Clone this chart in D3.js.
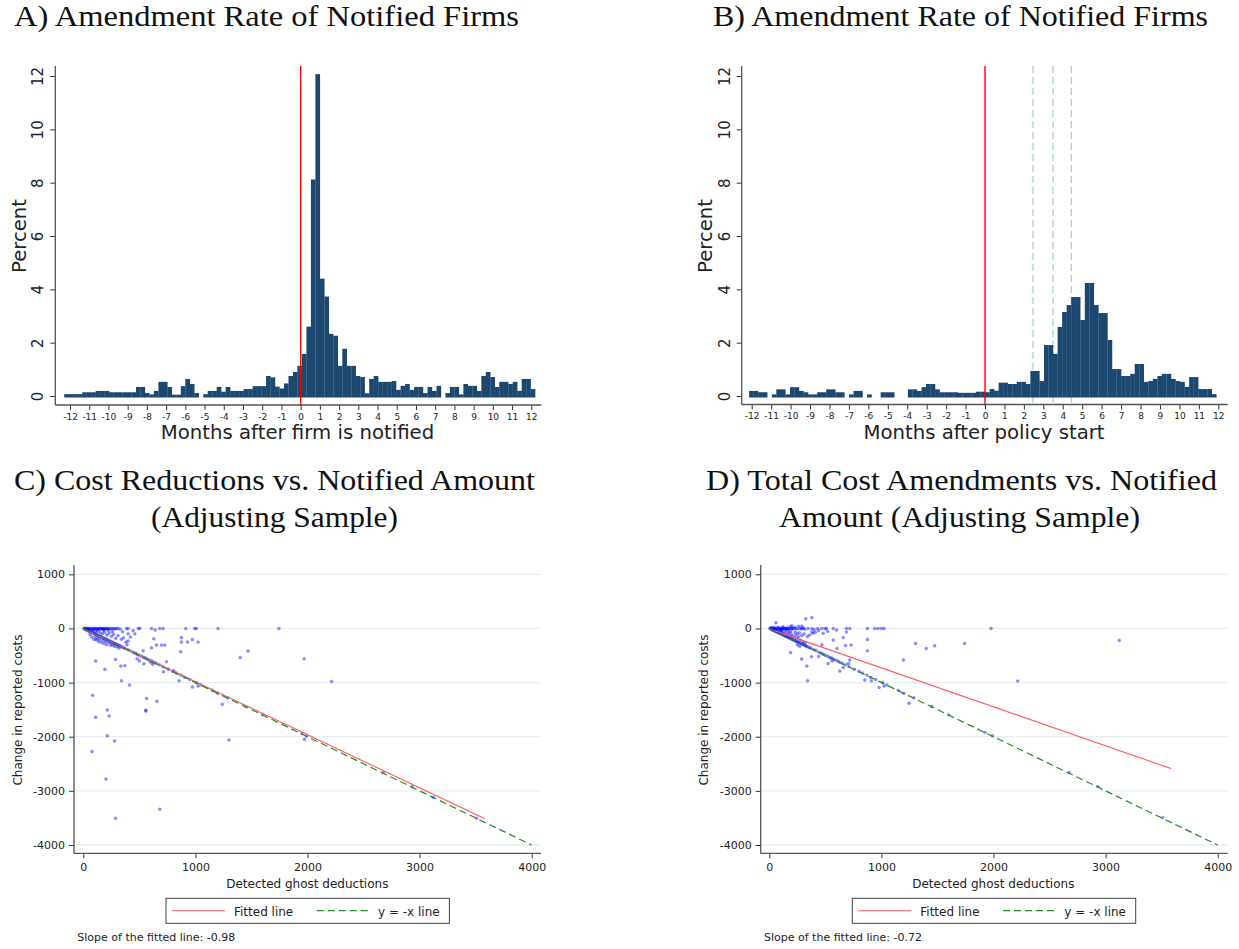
<!DOCTYPE html>
<html><head><meta charset="utf-8">
<script src="https://cdn.jsdelivr.net/npm/d3@7"></script>
<style>
body{margin:0;background:#fff}
svg{display:block}
text{font-family:"DejaVu Sans",sans-serif;fill:#222}
.ttl{font-family:"Liberation Serif",serif;fill:#111}
</style>
</head><body>
<svg id="c" width="1239" height="949"></svg>
<script>
// ---------------- DATA ----------------
const binWidthMonths = 7 / 30;
const binStartA = -12.3;
const binStartB = -12.133;
// Panel A: percent of amendments per weekly bin, months after firm is notified
const amendA = [
 0.07,0.07,0.07,0.07,0.14,0.14,0.14,0.19,0.19,0.19,
 0.14,0.14,0.14,0.14,0.14,0.14,0.34,0.34,0.11,0.06,
 0.19,0.53,0.53,0.34,0.05,0.05,0.37,0.64,0.45,0.11,
 0,0.07,0.19,0.19,0.34,0.16,0.34,0.19,0.19,0.19,
 0.26,0.26,0.37,0.37,0.37,0.75,0.70,0.35,0.28,0.47,
 0.75,0.90,1.13,1.58,2.60,8.12,12.07,4.40,3.73,2.33,
 2.26,1.13,1.77,1.13,1.13,0.75,0.71,0.10,0.64,0.75,
 0.53,0.53,0.53,0.56,0.23,0.38,0.45,0.23,0.34,0.34,
 0.11,0.34,0.19,0.38,0,0.11,0.34,0.34,0.06,0.45,
 0.38,0.38,0.19,0.75,0.90,0.71,0.34,0.53,0.53,0.45,
 0.53,0.19,0.64,0.64,0.26
];
// Panel B: percent of amendments per weekly bin, months after policy start
const amendB = [
 0.19,0.19,0.14,0.14,0,0.06,0.25,0.25,0.06,0.33,
 0.33,0.19,0.14,0.06,0.06,0.14,0.14,0.25,0.25,0.14,
 0.14,0,0.06,0.19,0.19,0,0.06,0,0,0.14,
 0.14,0.14,0,0,0,0.25,0.25,0.19,0.33,0.45,
 0.45,0.25,0.14,0.14,0.14,0.14,0.12,0.12,0.12,0.12,
 0.16,0.16,0.14,0.26,0.20,0.50,0.50,0.45,0.45,0.53,
 0.53,0.45,0.94,0.94,0.56,1.91,1.91,1.58,2.59,3.15,
 3.41,3.71,3.71,2.85,4.24,4.24,3.41,3.11,3.11,2.10,
 1.01,1.01,0.75,0.75,0.83,1.20,1.20,0.53,0.56,0.64,
 0.75,0.83,0.83,0.64,0.56,0.53,0.34,0.71,0.71,0.26,
 0.26,0.26,0.07
];
const histXTicks = [-12,-11,-10,-9,-8,-7,-6,-5,-4,-3,-2,-1,0,1,2,3,4,5,6,7,8,9,10,11,12];
const histYTicks = [0,2,4,6,8,10,12];
const policyDates = [2.47, 3.5, 4.44];

// Panels C/D
const scatterXTicks = [0,1000,2000,3000,4000];
const scatterYTicks = [1000,0,-1000,-2000,-3000,-4000];
const fitRange = [0, 3583];
const slopeC = -0.98, interceptC = -4;
const slopeD = -0.72, interceptD = -8;
const identityRange = [0, 4000];

const pointsC = [
 [5,0],[10,-8],[15,0],[22,-12],[28,0],[35,-5],[42,0],[48,-15],[55,0],[62,-8],[70,0],[78,-20],[85,0],[92,-10],[100,0],
 [108,-5],[115,0],[122,-18],[130,0],[138,-8],[145,0],[152,-12],[160,0],[168,-5],[175,0],[182,-15],[190,0],[198,-8],
 [206,0],[215,-10],[225,0],[235,-5],[248,0],[260,-10],[272,0],[285,-6],[296,0],[311,0],[330,-12],[386,0],[400,0],
 [445,-40],[490,0],[504,0],[608,0],[640,-30],[682,0],[712,0],[914,0],[994,0],[1009,0],[1202,0],[1745,0],
 [20,-20],[30,-30],[40,-38],[50,-50],[60,-55],[70,-68],[80,-78],[90,-85],[100,-98],[110,-105],[120,-118],[130,-125],
 [140,-138],[150,-148],[160,-155],[170,-168],[180,-175],[190,-188],[200,-195],[210,-208],[220,-215],[230,-228],
 [240,-235],[250,-248],[260,-255],[270,-268],[280,-275],[290,-288],[300,-295],[310,-308],[320,-315],[330,-328],
 [340,-335],[355,-350],[370,-365],
 [60,-110],[75,-160],[95,-200],[105,-150],[115,-210],[125,-180],[135,-240],[145,-200],[160,-260],[175,-220],
 [185,-280],[200,-240],[210,-300],[230,-260],[245,-310],[260,-290],[275,-330],[300,-340],[320,-360],
 [90,-40],[110,-60],[130,-50],[150,-80],[170,-100],[190,-70],[210,-120],[230,-90],[250,-150],[270,-110],[290,-180],
 [310,-130],[340,-200],[360,-170],[380,-250],[390,-300],[260,-60],[225,-40],[180,-30],[350,-60],[400,-100],[420,-160],
 [400,-395],[420,-410],[445,-440],[465,-455],[480,-478],[500,-495],[520,-512],[540,-535],[555,-548],[570,-565],
 [590,-585],[610,-600],[625,-620],[650,-640],[680,-672],[710,-705],[760,-752],[800,-790],[830,-822],[870,-860],
 [905,-900],[950,-942],[1010,-1000],[1050,-1045],[1150,-1140],[1200,-1195],[1290,-1280],[1450,-1442],[1600,-1592],
 [1950,-1942],[1990,-1988],[2676,-2663],[2932,-2921],[3123,-3118],[3509,-3505],
 [110,-603],[193,-756],[83,-1236],[110,-1642],[214,-1507],[231,-1617],[214,-1980],[279,-2079],[77,-2275],[202,-2780],
 [288,-3505],[682,-3340],[564,-1292],[558,-1507],[558,-1525],[656,-1347],[412,-1045],[341,-965],[371,-683],[288,-572],
 [335,-695],[534,-412],[608,-357],[629,-190],[653,-307],[697,-307],[727,-307],[742,-615],[715,-800],[807,-787],
 [875,-166],[875,-252],[869,-430],[929,-252],[973,-203],[1024,-252],[973,-1082],[1024,-1064],[1240,-1402],[1400,-535],
 [1469,-418],[1970,-560],[1973,-2048],[1300,-2060],[854,-965],[2216,-978],[400,-230],[460,-100],[600,-620],[480,-560],
 [540,-650],[620,-660],[500,-600]
];
const pointsD = [
 [5,0],[10,10],[15,0],[22,-12],[28,20],[35,0],[42,-5],[48,15],[55,0],[62,-10],[70,0],[78,25],[85,0],[92,-10],[100,5],
 [108,0],[115,-15],[122,0],[130,10],[138,0],[145,-10],[152,0],[160,15],[168,0],[175,-8],[182,0],[190,30],[198,0],
 [206,-10],[215,0],[225,20],[235,0],[248,-12],[260,40],[272,0],[285,-5],[296,0],[305,10],[318,-15],[347,0],[380,0],
 [400,-20],[430,0],[466,0],[495,0],[510,0],[570,0],[600,-30],[688,0],[718,0],[875,0],[940,0],[970,0],[1000,0],
 [1024,0],[1978,0],
 [59,105],[326,178],[380,203],[120,30],[200,50],[290,45],
 [20,-20],[30,-30],[40,-38],[50,-50],[60,-55],[70,-68],[80,-78],[90,-85],[100,-98],[110,-105],[120,-118],[130,-125],
 [140,-138],[150,-148],[160,-155],[170,-168],[180,-175],[190,-188],[200,-195],[210,-208],[220,-215],[230,-228],
 [240,-235],[250,-248],[260,-255],[270,-268],[280,-275],[290,-288],[300,-295],[310,-308],[320,-315],[330,-328],
 [340,-335],[355,-350],[370,-365],
 [60,-30],[75,-50],[95,-70],[105,-40],[115,-90],[125,-60],[135,-110],[145,-80],[160,-120],[175,-90],[185,-140],
 [200,-110],[210,-160],[230,-130],[245,-180],[260,-150],[275,-210],[300,-250],[320,-270],[250,-300],[270,-330],
 [90,-20],[110,-40],[150,-30],[170,-50],[190,-60],[230,-70],[250,-100],[270,-80],[290,-130],[310,-100],[340,-150],
 [360,-120],[380,-60],[390,-90],[410,-70],[440,-40],[480,-90],[520,-50],
 [400,-395],[420,-410],[445,-440],[465,-455],[480,-478],[500,-495],[520,-512],[540,-535],[555,-548],[570,-565],
 [590,-585],[610,-600],[625,-620],[650,-640],[680,-672],[710,-705],[760,-752],[800,-790],[830,-822],[870,-860],
 [905,-900],[950,-942],[1010,-1000],[1050,-1045],[1150,-1140],[1200,-1195],[1290,-1280],[1450,-1442],[1600,-1592],
 [190,-443],[288,-566],[335,-695],[341,-965],[377,-523],[525,-646],[570,-215],[605,-369],[659,-166],[680,-314],
 [688,-68],[730,-307],[875,-203],[875,-412],[852,-953],[911,-965],[979,-1089],[1024,-1064],[1196,-584],[1305,-277],
 [1400,-369],[1475,-320],[1246,-1384],[1742,-277],[2216,-972],[3122,-221],[1924,-1919],[1990,-1980],[2674,-2663],
 [2930,-2921],[3509,-3493],[659,-720],[706,-646],[718,-584],[629,-787],[470,-300],[440,-520],[560,-600]
];

// ---------------- DRAW ----------------
const svg = d3.select("#c");
const barColor = "#1c4870";
const axisColor = "#555";

function title(lines, cx, baseY, widths) {
  lines.forEach((t, i) => {
    svg.append("text").attr("class","ttl")
      .attr("x", cx[i]).attr("y", baseY + i*37)
      .attr("text-anchor","middle").attr("font-size", 29)
      .attr("textLength", widths[i]).attr("lengthAdjust","spacingAndGlyphs")
      .text(t);
  });
}

function histogram(cfg) {
  const g = svg.append("g");
  const x = d3.scaleLinear().domain([-12, 12]).range(cfg.xr);
  const y = d3.scaleLinear().domain([0, 12]).range([396, 76]);
  (cfg.dashes || []).forEach(m => {
    g.append("line").attr("x1", x(m)).attr("x2", x(m)).attr("y1", 66).attr("y2", cfg.axisY)
      .attr("stroke", "#a8d0e4").attr("stroke-width", 1.3).attr("stroke-dasharray", "7,4");
  });
  const bars = cfg.data.map((v, i) => ({ x0: cfg.start + i*binWidthMonths, x1: cfg.start + (i+1)*binWidthMonths, v }))
    .filter(d => d.v > 0);
  g.selectAll("rect.bar").data(bars).enter().append("rect")
    .attr("x", d => x(d.x0)).attr("width", d => x(d.x1) - x(d.x0) + 0.2)
    .attr("y", d => y(d.v)).attr("height", d => y(0) + 1.5 - y(d.v))
    .attr("fill", barColor);
  g.append("line").attr("x1", x(0)).attr("x2", x(0)).attr("y1", 66).attr("y2", cfg.axisY + 1)
    .attr("stroke", "#ff0000").attr("stroke-width", 1.4);
  const ya = g.append("g").attr("transform", `translate(${cfg.axisX},0)`)
    .call(d3.axisLeft(y).tickValues(histYTicks).tickSize(5).tickFormat(d => String(d)));
  ya.select(".domain").remove();
  ya.selectAll("line").attr("stroke", "#333");
  ya.selectAll("text").attr("x", null).attr("dy", null).attr("text-anchor", "middle")
    .attr("transform", "translate(-12,0) rotate(-90)").attr("font-size", 15).attr("fill", "#222");
  const xa = g.append("g").attr("transform", `translate(0,${cfg.axisY})`)
    .call(d3.axisBottom(x).tickValues(histXTicks).tickSize(5).tickPadding(3.5).tickFormat(d => String(d)));
  xa.select(".domain").remove();
  xa.selectAll("line").attr("stroke", "#333");
  xa.selectAll("text").attr("font-size", 9).attr("fill", "#222");
  g.append("line").attr("x1", cfg.axisX).attr("x2", cfg.axisX).attr("y1", 66).attr("y2", cfg.axisY)
    .attr("stroke", axisColor).attr("stroke-width", 1.3);
  g.append("line").attr("x1", cfg.axisX).attr("x2", cfg.axisX + 486).attr("y1", cfg.axisY).attr("y2", cfg.axisY)
    .attr("stroke", axisColor).attr("stroke-width", 1.3);
  g.append("text").attr("x", cfg.xTitleX).attr("y", 438.5).attr("text-anchor", "middle")
    .attr("font-size", 19.7).attr("fill", "#111").text(cfg.xTitle);
  g.append("text").attr("transform", `translate(${cfg.yTitleX},236) rotate(-90)`).attr("text-anchor", "middle")
    .attr("font-size", 19.7).attr("fill", "#111").text("Percent");
}

function scatter(cfg) {
  const g = svg.append("g");
  const x = d3.scaleLinear().domain([0, 4000]).range([cfg.x0, cfg.x0 + 448.4]);
  const y = d3.scaleLinear().domain([-4000, 1000]).range([845, 574.3]);
  const right = cfg.axisX + 467;
  g.selectAll("line.grid").data(scatterYTicks).enter().append("line")
    .attr("x1", cfg.axisX).attr("x2", right).attr("y1", d => y(d)).attr("y2", d => y(d))
    .attr("stroke", "#e6eff2").attr("stroke-width", 1.3);
  g.selectAll("circle").data(cfg.points).enter().append("circle")
    .attr("cx", d => x(d[0])).attr("cy", d => y(d[1])).attr("r", 1.5)
    .attr("fill", "#0000ff").attr("fill-opacity", 0.42)
    .attr("stroke", "#0000ff").attr("stroke-opacity", 0.3).attr("stroke-width", 0.6);
  const line = d3.line().x(d => x(d[0])).y(d => y(d[1]));
  g.append("path").attr("d", line(fitRange.map(v => [v, cfg.intercept + cfg.slope * v])))
    .attr("fill", "none").attr("stroke", "#ff5a5a").attr("stroke-width", 1.1);
  g.append("path").attr("d", line(identityRange.map(v => [v, -v])))
    .attr("fill", "none").attr("stroke", "#228b22").attr("stroke-width", 1.2).attr("stroke-dasharray", "7,4");
  const ya = g.append("g").attr("transform", `translate(${cfg.axisX},0)`)
    .call(d3.axisLeft(y).tickValues(scatterYTicks).tickSize(5).tickPadding(4).tickFormat(d => String(d)));
  ya.select(".domain").remove();
  ya.selectAll("line").attr("stroke", "#333");
  ya.selectAll("text").attr("font-size", 11).attr("fill", "#222");
  const xa = g.append("g").attr("transform", `translate(0,853.3)`)
    .call(d3.axisBottom(x).tickValues(scatterXTicks).tickSize(5).tickPadding(5).tickFormat(d => String(d)));
  xa.select(".domain").remove();
  xa.selectAll("line").attr("stroke", "#333");
  xa.selectAll("text").attr("font-size", 11).attr("fill", "#222");
  g.append("line").attr("x1", cfg.axisX).attr("x2", cfg.axisX).attr("y1", 565).attr("y2", 853.3)
    .attr("stroke", axisColor).attr("stroke-width", 1.3);
  g.append("line").attr("x1", cfg.axisX).attr("x2", right).attr("y1", 853.3).attr("y2", 853.3)
    .attr("stroke", axisColor).attr("stroke-width", 1.3);
  g.append("text").attr("x", cfg.x0 + 224).attr("y", 888).attr("text-anchor", "middle")
    .attr("font-size", 12).attr("fill", "#111").text("Detected ghost deductions");
  g.append("text").attr("transform", `translate(${cfg.axisX - 52.5},710) rotate(-90)`).attr("text-anchor", "middle")
    .attr("font-size", 12).attr("fill", "#111").text("Change in reported costs");
  const lx = cfg.legendX;
  g.append("rect").attr("x", lx).attr("y", 898.3).attr("width", 283.4).attr("height", 25)
    .attr("fill", "#fff").attr("stroke", "#444").attr("stroke-width", 1);
  g.append("line").attr("x1", lx + 5.7).attr("x2", lx + 59).attr("y1", 910.7).attr("y2", 910.7)
    .attr("stroke", "#ff5a5a").attr("stroke-width", 1.1);
  g.append("text").attr("x", lx + 68).attr("y", 915.5).attr("font-size", 12).attr("fill", "#111").text("Fitted line");
  g.append("line").attr("x1", lx + 150.7).attr("x2", lx + 204).attr("y1", 910.7).attr("y2", 910.7)
    .attr("stroke", "#228b22").attr("stroke-width", 1.2).attr("stroke-dasharray", "7,4");
  g.append("text").attr("x", lx + 212).attr("y", 915.5).attr("font-size", 12).attr("fill", "#111").text("y = -x line");
  g.append("text").attr("x", cfg.axisX + 3.3).attr("y", 941).attr("font-size", 11).attr("fill", "#111")
    .text("Slope of the fitted line: " + cfg.slope.toFixed(2));
}

title(["A) Amendment Rate of Notified Firms"], [266.5], 26, [505]);
title(["B) Amendment Rate of Notified Firms"], [960.5], 26, [495]);
title(["C) Cost Reductions vs. Notified Amount", "(Adjusting Sample)"], [274.5, 274.5], 490, [521, 247]);
title(["D) Total Cost Amendments vs. Notified", "Amount (Adjusting Sample)"], [961.5, 959.5], 490, [511, 361]);

histogram({ data: amendA, start: binStartA, xr: [70, 531.3], axisX: 55.3, axisY: 405,
  xTitle: "Months after firm is notified", xTitleX: 297.5, yTitleX: 26 });
histogram({ data: amendB, start: binStartB, xr: [751.7, 1218.3], axisX: 741.7, axisY: 404.5,
  dashes: policyDates, xTitle: "Months after policy start", xTitleX: 984, yTitleX: 712 });

scatter({ points: pointsC, slope: slopeC, intercept: interceptC, x0: 83.3, axisX: 74, legendX: 166 });
scatter({ points: pointsD, slope: slopeD, intercept: interceptD, x0: 769.3, axisX: 760.7, legendX: 852.3 });
</script>
</body></html>
